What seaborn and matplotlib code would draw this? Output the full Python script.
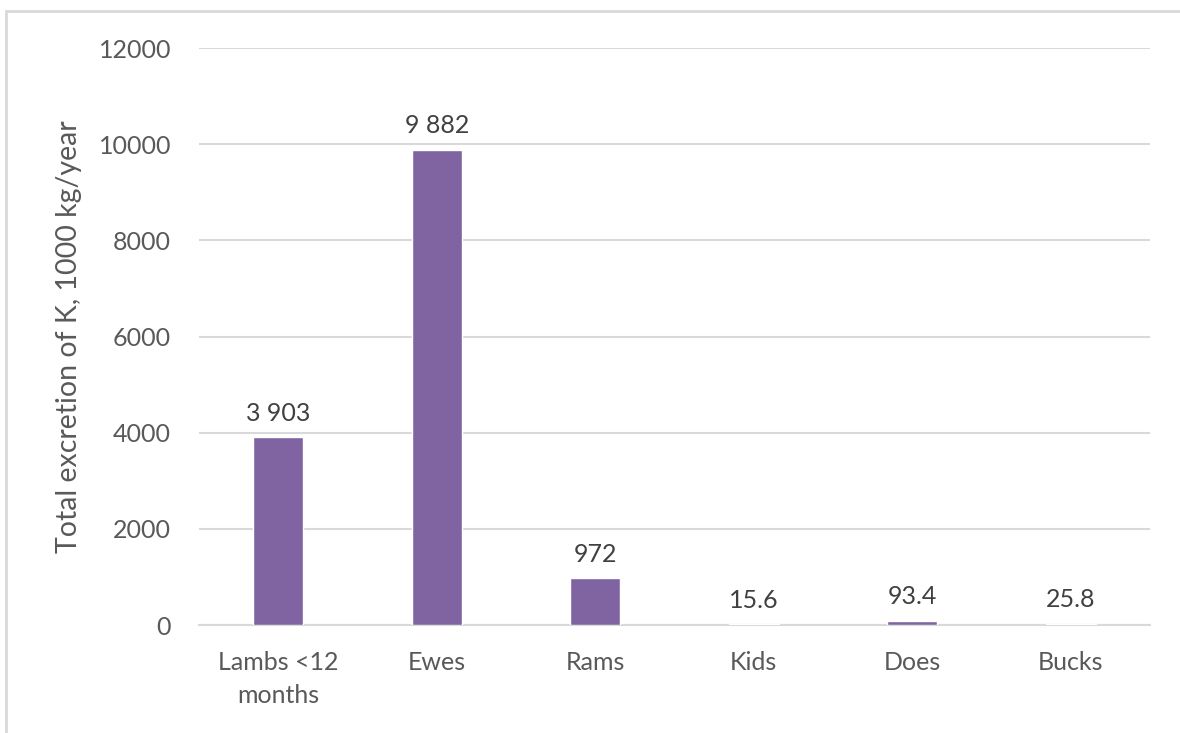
import pandas as pd
import matplotlib
matplotlib.use("Agg")
import matplotlib.pyplot as plt
import seaborn as sns

# Datos del gráfico
categories = ["Lambs <12\nmonths", "Ewes", "Rams", "Kids", "Does", "Bucks"]
values = [3903, 9882, 972, 15.6, 93.4, 25.8]
value_labels = ["3 903", "9 882", "972", "15.6", "93.4", "25.8"]
y_ticks = [0, 2000, 4000, 6000, 8000, 10000, 12000]

sns.set_style("white")
plt.rcParams["font.family"] = ["Lato", "DejaVu Sans"]

text_color = "#595959"
grid_color = "#D9D9D9"
bar_color = "#8064A2"

df = pd.DataFrame({"category": categories, "value": values})

fig = plt.figure(figsize=(11.8, 7.33), dpi=100)
ax = fig.add_axes([0.1686, 0.1473, 0.806, 0.7872])

sns.barplot(data=df, x="category", y="value", color=bar_color,
            width=0.315, saturation=1, ax=ax, zorder=3)

ax.set_ylim(0, 12000)
ax.set_xlim(-0.5, len(categories) - 0.5)
ax.set_yticks(y_ticks)
ax.set_yticklabels([str(t) for t in y_ticks])
ax.yaxis.grid(True, color=grid_color, linewidth=1.5, zorder=0)
ax.set_axisbelow(True)
for side in ["top", "right", "left"]:
    ax.spines[side].set_visible(False)
ax.spines["bottom"].set_color(grid_color)
ax.spines["bottom"].set_linewidth(1.5)

ax.tick_params(axis="both", length=0, labelsize=18, colors=text_color)
ax.tick_params(axis="y", pad=20)
ax.tick_params(axis="x", pad=19)
for lbl in ax.get_xticklabels():
    lbl.set_linespacing(1.5)

ax.set_xlabel("")
ax.set_ylabel("Total excretion of K, 1000 kg/year", fontsize=20.5,
              color=text_color, labelpad=12)

# Etiquetas de valores
for i, (v, lab) in enumerate(zip(values, value_labels)):
    ax.annotate(lab, (i, v), xytext=(0, 9), textcoords="offset points",
                ha="center", va="bottom", fontsize=18, color="#404040")

# Marco del gráfico
fig.add_artist(plt.Line2D([6 / 1180, 6 / 1180], [0, 1 - 11 / 733],
                          transform=fig.transFigure, color=grid_color, lw=2))
fig.add_artist(plt.Line2D([6 / 1180, 1], [1 - 11 / 733, 1 - 11 / 733],
                          transform=fig.transFigure, color=grid_color, lw=2))

fig.savefig("out.png", dpi=100)
